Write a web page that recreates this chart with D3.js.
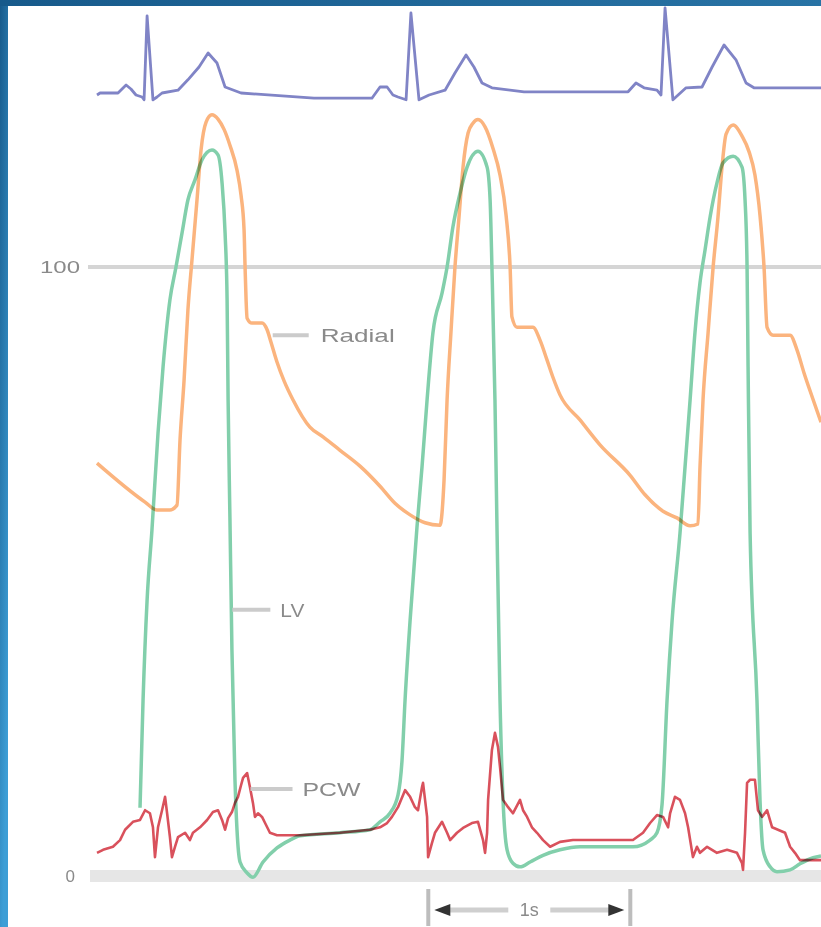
<!DOCTYPE html>
<html>
<head>
<meta charset="utf-8">
<script src="https://cdn.jsdelivr.net/npm/d3@7"></script>
<style>
  html, body { margin: 0; padding: 0; background: #fff; }
  svg { display: block; }
  text { font-family: "Liberation Sans", Arial, sans-serif; }
</style>
</head>
<body>
<script>
// ---------- data (time in seconds, pressure in mmHg, ECG in mV) ----------
const radial = [[0,67.8],[0.238,61.4],[0.297,60.1],[0.361,60.1],[0.396,60.9],[0.411,71.6],[0.431,81.4],[0.450,92.9],[0.470,101.1],[0.495,111.0],[0.515,119.2],[0.540,123.8],[0.569,125.0],[0.599,124.3],[0.629,122.6],[0.658,120.0],[0.693,115.9],[0.713,111.8],[0.728,106.1],[0.733,100.0],[0.738,94.6],[0.743,91.6],[0.767,90.8],[0.817,90.8],[0.842,89.7],[0.861,87.7],[0.891,84.4],[0.926,81.3],[0.970,78.2],[1.054,73.7],[1.119,72.1],[1.203,69.9],[1.302,67.3],[1.401,64.0],[1.475,61.2],[1.550,59.3],[1.624,58.0],[1.698,57.6],[1.718,65.0],[1.733,78.2],[1.752,89.2],[1.772,100.0],[1.792,108.2],[1.812,116.4],[1.837,122.0],[1.861,123.6],[1.886,124.2],[1.921,123.0],[1.960,119.5],[1.995,115.1],[2.025,108.5],[2.045,100.0],[2.054,91.8],[2.079,90.1],[2.158,90.1],[2.193,88.0],[2.228,84.7],[2.257,81.9],[2.292,79.0],[2.391,74.9],[2.490,70.8],[2.639,65.8],[2.713,62.6],[2.802,59.9],[2.871,58.8],[2.936,57.5],[2.975,57.8],[2.985,67.2],[3.000,78.2],[3.025,89.2],[3.050,100.0],[3.074,108.2],[3.094,116.4],[3.114,121.8],[3.149,123.3],[3.193,121.5],[3.228,118.9],[3.257,115.1],[3.282,108.5],[3.302,100.0],[3.317,90.1],[3.347,88.8],[3.431,88.8],[3.465,86.4],[3.500,82.6],[3.540,78.7],[3.584,74.5]];

const lv = [[0.213,11.2],[0.228,28.9],[0.248,45.3],[0.272,56.8],[0.302,72.7],[0.327,83.6],[0.361,94.6],[0.391,100.0],[0.421,105.6],[0.450,111.0],[0.485,114.3],[0.520,117.6],[0.569,119.2],[0.599,118.4],[0.619,113.8],[0.634,105.6],[0.644,94.6],[0.649,78.2],[0.658,58.9],[0.668,37.1],[0.683,15.8],[0.693,7.6],[0.708,2.3],[0.743,0.5],[0.772,-0.2],[0.822,2.3],[0.891,4.6],[0.955,5.9],[1.005,6.6],[1.203,7.1],[1.351,7.6],[1.401,8.9],[1.450,10.3],[1.490,13.3],[1.510,19.0],[1.525,28.9],[1.550,42.0],[1.584,57.3],[1.609,67.2],[1.634,78.2],[1.663,89.2],[1.708,95.7],[1.733,100.0],[1.762,106.6],[1.797,112.1],[1.832,116.4],[1.886,119.0],[1.931,116.4],[1.946,111.0],[1.955,100.0],[1.970,78.2],[1.980,57.3],[1.995,28.9],[2.010,12.5],[2.030,4.3],[2.059,2.1],[2.094,1.5],[2.144,2.3],[2.208,3.4],[2.292,4.3],[2.391,4.8],[2.653,4.8],[2.738,5.9],[2.772,7.1],[2.797,11.7],[2.822,28.9],[2.847,42.0],[2.886,56.3],[2.911,67.2],[2.936,78.2],[2.960,89.2],[2.985,97.4],[3.010,102.8],[3.035,108.2],[3.069,113.8],[3.099,117.1],[3.149,118.2],[3.193,116.4],[3.208,111.0],[3.218,100.0],[3.223,83.6],[3.233,56.3],[3.267,28.9],[3.282,12.5],[3.297,4.3],[3.332,1.5],[3.366,0.7],[3.431,1.0],[3.480,2.0],[3.545,3.0],[3.584,3.3]];

const pcw = [[0,3.8],[0.030,4.3],[0.079,4.8],[0.114,5.9],[0.139,7.6],[0.178,8.9],[0.213,9.2],[0.238,10.8],[0.262,10.3],[0.277,8.0],[0.287,3.1],[0.302,8.0],[0.322,10.8],[0.337,13.0],[0.347,10.3],[0.361,6.4],[0.371,3.1],[0.386,4.8],[0.401,6.4],[0.436,7.1],[0.460,5.9],[0.475,7.1],[0.510,8.0],[0.545,9.2],[0.574,10.5],[0.599,10.8],[0.619,9.2],[0.634,7.6],[0.649,9.5],[0.668,10.5],[0.683,12.0],[0.698,13.0],[0.713,14.9],[0.723,16.1],[0.743,16.9],[0.757,14.6],[0.772,12.0],[0.782,9.7],[0.797,10.3],[0.817,9.7],[0.832,8.7],[0.856,7.1],[0.891,6.7],[0.931,6.7],[1.005,6.7],[1.203,7.1],[1.351,7.6],[1.401,8.0],[1.436,8.7],[1.460,9.7],[1.490,11.3],[1.525,14.1],[1.550,13.0],[1.574,11.3],[1.589,10.8],[1.609,14.6],[1.614,15.3],[1.634,9.7],[1.639,3.1],[1.658,5.4],[1.673,7.1],[1.708,8.9],[1.733,7.1],[1.748,5.9],[1.782,7.1],[1.812,7.9],[1.856,8.7],[1.886,8.9],[1.911,5.9],[1.921,3.8],[1.931,7.1],[1.936,12.5],[1.955,20.7],[1.970,23.5],[1.985,21.2],[1.995,17.9],[2.010,12.5],[2.035,11.3],[2.059,10.3],[2.094,12.5],[2.109,10.8],[2.129,9.7],[2.153,8.0],[2.178,7.1],[2.208,5.9],[2.243,4.8],[2.292,5.6],[2.356,5.9],[2.653,5.9],[2.703,7.1],[2.738,8.7],[2.772,10.0],[2.802,9.7],[2.827,8.0],[2.837,10.3],[2.861,13.0],[2.886,12.5],[2.911,10.3],[2.926,8.0],[2.950,3.1],[2.970,4.8],[2.985,3.8],[3.020,4.8],[3.069,3.8],[3.119,4.3],[3.168,3.8],[3.193,2.1],[3.198,1.0],[3.208,7.1],[3.218,15.3],[3.233,15.8],[3.257,15.8],[3.272,10.8],[3.292,9.7],[3.317,10.8],[3.342,8.0],[3.371,7.6],[3.406,7.1],[3.431,4.8],[3.455,3.8],[3.480,2.6],[3.530,2.6],[3.584,2.6]];

const ecg = [[0,0],[0.015,0.025],[0.104,0.025],[0.124,0.075],[0.144,0.125],[0.168,0.075],[0.193,0],[0.223,-0.025],[0.233,-0.06],[0.248,0.99],[0.277,-0.06],[0.297,-0.025],[0.322,0.025],[0.401,0.06],[0.450,0.19],[0.505,0.35],[0.550,0.525],[0.594,0.40],[0.634,0.10],[0.713,0.025],[1.074,-0.04],[1.361,-0.04],[1.401,0.10],[1.436,0.10],[1.465,0],[1.490,-0.025],[1.530,-0.06],[1.554,1.025],[1.594,-0.06],[1.644,0],[1.723,0.06],[1.772,0.275],[1.827,0.50],[1.866,0.35],[1.906,0.15],[1.955,0.09],[2.114,0.04],[2.629,0.04],[2.668,0.15],[2.708,0.09],[2.772,0.06],[2.792,0],[2.812,1.09],[2.851,-0.06],[2.916,0.09],[2.995,0.10],[3.045,0.35],[3.104,0.625],[3.163,0.44],[3.213,0.15],[3.252,0.09],[3.584,0.09]];

const yTicks = [0, 100];
const seriesLabels = [
  {name: "Radial", t: 0.85, v: 88.8},
  {name: "LV",     t: 0.67, v: 43.7},
  {name: "PCW",    t: 0.76, v: 14.3}
];
const scaleBar = {label: "1s", start: 1.64, seconds: 1};

// ---------- layout ----------
const W = 821, H = 927;
const x = d3.scaleLinear().domain([0, 3.584]).range([97, 821]);
const y = d3.scaleLinear().domain([0, 100]).range([876, 267]);
const ye = d3.scaleLinear().domain([0, 1]).range([95, 15]);

const svg = d3.select("body").append("svg").attr("width", W).attr("height", H);
const defs = svg.append("defs");
const g1 = defs.append("linearGradient").attr("id", "bg").attr("x1", 0).attr("y1", 0).attr("x2", 0.35).attr("y2", 1);
g1.append("stop").attr("offset", 0).attr("stop-color", "#175a8b");
g1.append("stop").attr("offset", 1).attr("stop-color", "#3d9ed6");
const g2 = defs.append("linearGradient").attr("id", "topbar").attr("x1", 0).attr("y1", 0).attr("x2", 1).attr("y2", 0);
g2.append("stop").attr("offset", 0).attr("stop-color", "#175a8b");
g2.append("stop").attr("offset", 1).attr("stop-color", "#2873a5");

svg.append("rect").attr("width", W).attr("height", H).attr("fill", "#fff");

// grid / baseline
svg.append("line").attr("x1", 90).attr("x2", W).attr("y1", y(0)).attr("y2", y(0))
  .attr("stroke", "#e6e6e6").attr("stroke-width", 12);
svg.append("line").attr("x1", 88).attr("x2", W).attr("y1", y(100)).attr("y2", y(100))
  .attr("stroke", "#d5d5d5").attr("stroke-width", 4);

// y axis labels
const yAxis = d3.axisLeft(y).tickValues(yTicks).tickSize(0).tickPadding(0).tickFormat(d3.format("d"));
const ga = svg.append("g").attr("transform", "translate(80,0)").call(yAxis);
ga.select(".domain").remove();
ga.selectAll("text").attr("font-size", 17).attr("fill", "#8a8a8a")
  .attr("font-family", "Liberation Sans, Arial, sans-serif")
  .each(function(d){ if (d === 100) d3.select(this).attr("textLength", 40).attr("lengthAdjust", "spacingAndGlyphs"); })
  .attr("dy", "0.35em");
ga.selectAll("text").filter(d => d === 0).attr("x", -5);

// lines
const lineP = d3.line().x(d => x(d[0])).y(d => y(d[1])).curve(d3.curveMonotoneX);
const lineL = d3.line().x(d => x(d[0])).y(d => y(d[1]));
const lineE = d3.line().x(d => x(d[0])).y(d => ye(d[1]));

const plot = svg.append("g").style("isolation", "isolate");
plot.append("path").datum(lv).attr("d", lineP).attr("fill", "none")
  .attr("stroke", "#82cfab").attr("stroke-width", 3.5).attr("stroke-linejoin", "round")
  .style("mix-blend-mode", "multiply");
plot.append("path").datum(radial).attr("d", lineP).attr("fill", "none")
  .attr("stroke", "#fbb47e").attr("stroke-width", 3.5).attr("stroke-linejoin", "round")
  .style("mix-blend-mode", "multiply");
plot.append("path").datum(pcw).attr("d", lineL).attr("fill", "none")
  .attr("stroke", "#d9515c").attr("stroke-width", 2.6).attr("stroke-linejoin", "round")
  .style("mix-blend-mode", "multiply");
plot.append("path").datum(ecg).attr("d", lineE).attr("fill", "none")
  .attr("stroke", "#8084c6").attr("stroke-width", 2.8).attr("stroke-linejoin", "round");

// series labels with leader lines
const lab = svg.append("g");
seriesLabels.forEach(s => {
  const lx = x(s.t), ly = y(s.v);
  const lens = {Radial: [4, 40, 52, 74], LV: [0, 38, 48, 24], PCW: [0, 42, 52, 58]}[s.name];
  lab.append("line").attr("x1", lx + lens[0]).attr("x2", lx + lens[1]).attr("y1", ly).attr("y2", ly)
    .attr("stroke", "#cbcbcb").attr("stroke-width", 4);
  lab.append("text").attr("x", lx + lens[2]).attr("y", ly).attr("dy", "0.36em")
    .attr("font-size", 19).attr("fill", "#8a8a8a")
    .attr("textLength", lens[3]).attr("lengthAdjust", "spacingAndGlyphs").text(s.name);
});

// scale bar
const sb = svg.append("g");
const sx0 = x(scaleBar.start), sx1 = x(scaleBar.start + scaleBar.seconds), sy = 910;
sb.append("line").attr("x1", sx0).attr("x2", sx0).attr("y1", 889).attr("y2", 926).attr("stroke", "#bdbdbd").attr("stroke-width", 4);
sb.append("line").attr("x1", sx1).attr("x2", sx1).attr("y1", 889).attr("y2", 926).attr("stroke", "#bdbdbd").attr("stroke-width", 4);
sb.append("line").attr("x1", sx0 + 20).attr("x2", sx0 + 80).attr("y1", sy).attr("y2", sy).attr("stroke", "#cfcfcf").attr("stroke-width", 5);
sb.append("line").attr("x1", sx1 - 80).attr("x2", sx1 - 20).attr("y1", sy).attr("y2", sy).attr("stroke", "#cfcfcf").attr("stroke-width", 5);
sb.append("path").attr("d", `M${sx0+6},${sy} L${sx0+22},${sy-6} L${sx0+22},${sy+6} Z`).attr("fill", "#333");
sb.append("path").attr("d", `M${sx1-6},${sy} L${sx1-22},${sy-6} L${sx1-22},${sy+6} Z`).attr("fill", "#333");
sb.append("text").attr("x", (sx0 + sx1) / 2).attr("y", sy).attr("dy", "0.36em").attr("text-anchor", "middle")
  .attr("font-size", 18).attr("fill", "#8a8a8a").text(scaleBar.label);

// frame
svg.append("rect").attr("x", 0).attr("y", 0).attr("width", 8).attr("height", H).attr("fill", "url(#bg)");
svg.append("rect").attr("x", 0).attr("y", 0).attr("width", W).attr("height", 6).attr("fill", "url(#topbar)");
</script>
</body>
</html>
